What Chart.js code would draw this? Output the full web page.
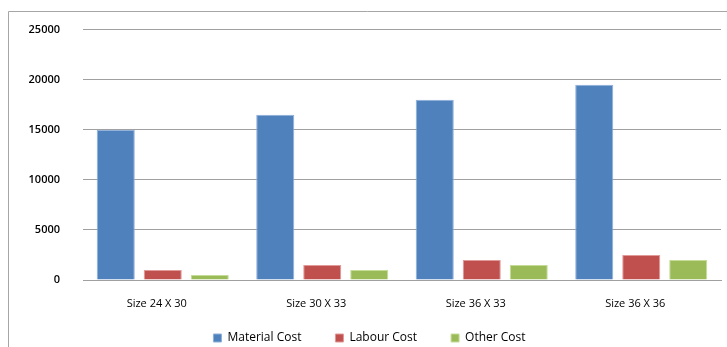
<!DOCTYPE html>
<html>
<head>
<meta charset="utf-8">
<script src="https://cdn.jsdelivr.net/npm/chart.js@4/dist/chart.umd.min.js"></script>
<style>
  html, body { margin: 0; padding: 0; background: #fff; }
  #wrap { width: 727px; height: 347px; }
</style>
</head>
<body>
<div id="wrap"><canvas id="myChart" width="727" height="347"></canvas></div>
<script>
const categories = ['Size 24 X 30', 'Size 30 X 33', 'Size 36 X 33', 'Size 36 X 36'];
const materialCost = [15000, 16500, 18000, 19500];
const labourCost = [1000, 1500, 2000, 2500];
const otherCost = [500, 1000, 1500, 2000];
const yTicks = [0, 5000, 10000, 15000, 20000, 25000];

const FONT = "'Open Sans', sans-serif";

// outer frame like the pasted Excel chart
const framePlugin = {
  id: 'frame',
  beforeDraw(chart) {
    const ctx = chart.ctx;
    ctx.save();
    ctx.strokeStyle = '#a6a6a6';
    ctx.lineWidth = 1;
    ctx.beginPath();
    ctx.moveTo(8.5, 347);
    ctx.lineTo(8.5, 11.5);
    ctx.lineTo(727, 11.5);
    ctx.stroke();
    ctx.restore();
  }
};

// fixed legend box height, then stretch its top up so the items sit near the bottom edge
const legendHeightPlugin = {
  id: 'legendHeight',
  beforeLayout(chart) {
    const legend = chart.legend;
    if (legend && !legend._fixedFit) {
      const fit = legend.fit;
      legend.fit = function () {
        fit.call(this);
        this.height = 37;
      };
      legend._fixedFit = true;
    }
  },
  afterLayout(chart) {
    const legend = chart.legend;
    if (legend) {
      legend.top = chart.height - 49;
      legend.bottom = chart.height;
      legend.left += 18;
    }
  }
};

const makeSet = (label, data, color, edge) => ({
  label,
  data,
  backgroundColor: color,
  borderColor: edge,
  borderWidth: 1,
  categoryPercentage: 0.884,
  barPercentage: 0.81
});

new Chart(document.getElementById('myChart').getContext('2d'), {
  type: 'bar',
  data: {
    labels: categories,
    datasets: [
      makeSet('Material Cost', materialCost, '#4f81bd', '#8fb0dc'),
      makeSet('Labour Cost', labourCost, '#c0504d', '#e09a98'),
      makeSet('Other Cost', otherCost, '#9bbb59', '#c5dc98')
    ]
  },
  options: {
    responsive: false,
    animation: false,
    layout: { padding: { top: 25, right: 6, left: 0, bottom: 0 } },
    plugins: {
      tooltip: { enabled: false },
      legend: {
        position: 'bottom',
        labels: {
          font: { family: FONT, size: 12 },
          color: '#000',
          boxWidth: 8,
          boxHeight: 8,
          padding: 34
        }
      }
    },
    scales: {
      x: {
        grid: { display: false, drawTicks: false },
        border: { display: true, color: '#a0a0a0', width: 1 },
        ticks: { font: { family: FONT, size: 11 }, color: '#000', padding: 17, labelOffset: -6 },
        afterFit(scale) { scale.height = 30; }
      },
      y: {
        min: 0,
        max: 25000,
        afterBuildTicks(scale) { scale.ticks = yTicks.map(v => ({ value: v })); },
        grid: { color: '#a0a0a0', drawTicks: false },
        border: { display: false },
        ticks: {
          font: { family: FONT, size: 11, weight: '600' },
          color: '#000',
          padding: 23,
          callback: v => String(v)
        },
        afterFit(scale) { scale.width = 83; }
      }
    }
  },
  plugins: [framePlugin, legendHeightPlugin]
});
</script>
</body>
</html>
